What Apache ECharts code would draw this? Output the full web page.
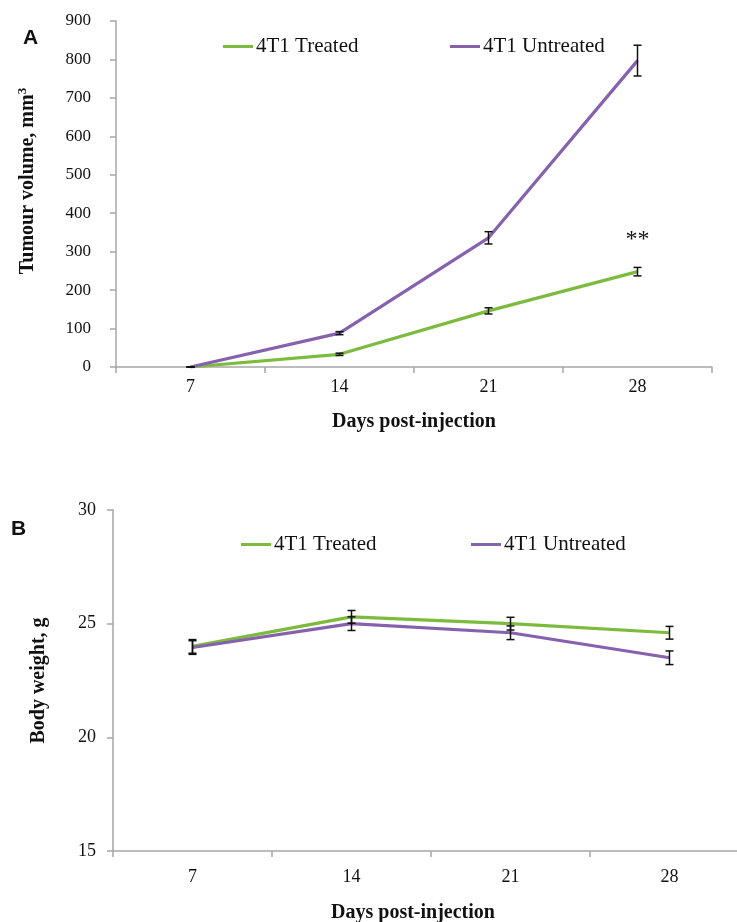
<!DOCTYPE html>
<html>
<head>
<meta charset="utf-8">
<script src="https://cdn.jsdelivr.net/npm/echarts@6/dist/echarts.min.js"></script>
<style>
  html, body { margin: 0; padding: 0; background: #fff; }
  #chart { width: 737px; height: 922px; }
</style>
</head>
<body>
<div id="chart"></div>
<script>
// days after injection
const days = ['7', '14', '21', '28'];

// panel A - tumour volume (mm3)
const volTreated = [0, 33, 146, 248];
const volTreatedErr = [0, 3, 8, 11];
const volUntreated = [0, 88, 336, 797];
const volUntreatedErr = [0, 4, 16, 40];

// panel B - body weight (g)
const wtTreated = [24.0, 25.3, 25.0, 24.6];
const wtTreatedErr = [0.3, 0.28, 0.28, 0.28];
const wtUntreated = [23.95, 25.0, 24.6, 23.5];
const wtUntreatedErr = [0.3, 0.3, 0.3, 0.3];

const seriesNames = ['4T1 Treated', '4T1 Untreated'];
const GREEN = '#7cbb3e';
const PURPLE = '#8661ad';
const AXIS = '#a6a6a6';
const SERIF = 'Liberation Serif';

function errData(vals, errs) {
  return vals.map((v, i) => [i, v - errs[i], v + errs[i]]);
}

function errorBars(xi, yi, vals, errs) {
  return {
    type: 'custom',
    xAxisIndex: xi,
    yAxisIndex: yi,
    z: 5,
    silent: true,
    data: errData(vals, errs),
    renderItem: function (params, api) {
      const lo = api.coord([api.value(0), api.value(1)]);
      const hi = api.coord([api.value(0), api.value(2)]);
      const w = 4;
      const st = { stroke: '#111', lineWidth: 1.5 };
      return {
        type: 'group',
        children: [
          { type: 'line', shape: { x1: lo[0], y1: lo[1], x2: hi[0], y2: hi[1] }, style: st },
          { type: 'line', shape: { x1: lo[0] - w, y1: lo[1], x2: lo[0] + w, y2: lo[1] }, style: st },
          { type: 'line', shape: { x1: hi[0] - w, y1: hi[1], x2: hi[0] + w, y2: hi[1] }, style: st }
        ]
      };
    }
  };
}

function lineSeries(name, color, xi, yi, vals, extra) {
  return Object.assign({
    name: name,
    type: 'line',
    xAxisIndex: xi,
    yAxisIndex: yi,
    data: vals,
    symbol: 'none',
    color: color,
    lineStyle: { width: 3.2, color: color },
    animation: false
  }, extra || {});
}

function legendItem(name, left, top) {
  return {
    data: [name],
    left: left,
    top: top,
    icon: 'rect',
    itemWidth: 30,
    itemHeight: 3,
    itemGap: 0,
    selectedMode: false,
    textStyle: { fontFamily: SERIF, fontSize: 21, color: '#111', padding: [0, 0, 0, -2] }
  };
}

function xAxisFor(gi, nameShift, labelMargin, nameGap) {
  return {
    type: 'category',
    gridIndex: gi,
    data: days,
    boundaryGap: true,
    axisLine: { lineStyle: { color: AXIS, width: 1.5 } },
    axisTick: { show: true, length: 6, lineStyle: { color: AXIS, width: 1.5 } },
    axisLabel: { fontFamily: SERIF, fontSize: 18, color: '#111', margin: labelMargin },
    name: 'Days post-injection',
    nameLocation: 'middle',
    nameGap: nameGap,
    nameTextStyle: { fontFamily: SERIF, fontSize: 20, fontWeight: 'bold', color: '#111', padding: [0, nameShift, 0, 0] }
  };
}

const option = {
  animation: false,
  backgroundColor: '#fff',
  title: [
    { text: 'A', left: 18, top: 23, textStyle: { fontFamily: 'Liberation Sans', fontSize: 21, fontWeight: 'bold', color: '#111' } },
    { text: 'B', left: 6, top: 514, textStyle: { fontFamily: 'Liberation Sans', fontSize: 21, fontWeight: 'bold', color: '#111' } }
  ],
  legend: [
    legendItem(seriesNames[0], 218, 31),
    legendItem(seriesNames[1], 445, 31),
    legendItem(seriesNames[0], 236, 529),
    legendItem(seriesNames[1], 466, 529)
  ],
  grid: [
    { left: 116, width: 596, top: 21, height: 346, outerBoundsMode: 'none' },
    { left: 113, width: 636, top: 510, height: 341, outerBoundsMode: 'none' }
  ],
  xAxis: [xAxisFor(0, 0, 11, 45), xAxisFor(1, 36, 17, 52)],
  yAxis: [
    {
      type: 'value',
      gridIndex: 0,
      min: 0, max: 900, interval: 100,
      splitLine: { show: false },
      axisLine: { show: true, lineStyle: { color: AXIS, width: 1.5 } },
      axisTick: { show: true, length: 6, lineStyle: { color: AXIS, width: 1.5 } },
      axisLabel: { fontFamily: SERIF, fontSize: 17, color: '#111', margin: 25 },
      name: '{n|Tumour volume, mm}{s|3}',
      nameLocation: 'middle',
      nameGap: 76,
      nameTextStyle: {
        fontFamily: SERIF, fontSize: 20, fontWeight: 'bold', color: '#111', padding: [0, 0, 0, 26],
        rich: {
          n: { fontFamily: SERIF, fontSize: 20, fontWeight: 'bold', color: '#111', lineHeight: 24 },
          s: { fontFamily: SERIF, fontSize: 13, fontWeight: 'bold', color: '#111', lineHeight: 24, verticalAlign: 'top' }
        }
      }
    },
    {
      type: 'value',
      gridIndex: 1,
      min: 15, max: 30, interval: 5,
      splitLine: { show: false },
      axisLine: { show: true, lineStyle: { color: AXIS, width: 1.5 } },
      axisTick: { show: true, length: 6, lineStyle: { color: AXIS, width: 1.5 } },
      axisLabel: { fontFamily: SERIF, fontSize: 18, color: '#111', margin: 17 },
      name: 'Body weight, g',
      nameLocation: 'middle',
      nameGap: 64,
      nameTextStyle: { fontFamily: SERIF, fontSize: 20, fontWeight: 'bold', color: '#111' }
    }
  ],
  series: [
    lineSeries(seriesNames[0], GREEN, 0, 0, volTreated, {
      markPoint: {
        symbol: 'circle',
        symbolSize: 0,
        silent: true,
        label: { show: true, formatter: '**', fontFamily: SERIF, fontSize: 24, color: '#111', position: 'inside' },
        data: [{ coord: [3, 330] }]
      }
    }),
    lineSeries(seriesNames[1], PURPLE, 0, 0, volUntreated),
    errorBars(0, 0, volTreated, volTreatedErr),
    errorBars(0, 0, volUntreated, volUntreatedErr),
    lineSeries(seriesNames[0], GREEN, 1, 1, wtTreated),
    lineSeries(seriesNames[1], PURPLE, 1, 1, wtUntreated),
    errorBars(1, 1, wtTreated, wtTreatedErr),
    errorBars(1, 1, wtUntreated, wtUntreatedErr)
  ]
};

const chart = echarts.init(document.getElementById('chart'));
chart.setOption(option);
window.addEventListener('resize', function () {
  chart.resize();
});
</script>
</body>
</html>
